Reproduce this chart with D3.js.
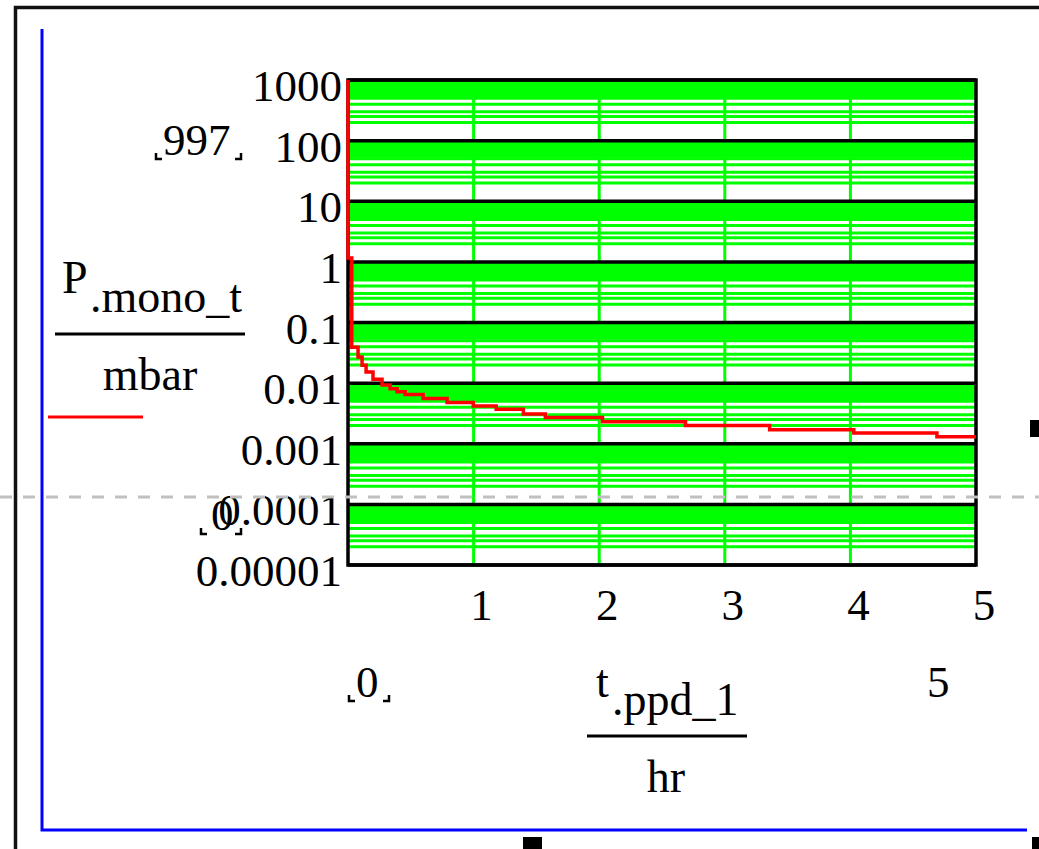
<!DOCTYPE html>
<html>
<head>
<meta charset="utf-8">
<script src="https://cdn.jsdelivr.net/npm/d3@7"></script>
<style>
	body { margin: 0; background: #fff; }
	svg { display: block; }
	text { font-family: "Liberation Serif", "Times New Roman", serif; fill: #000; }
</style>
</head>
<body>
<div id="plot"></div>
<script>
// pressure trace (step points)
const tHours = [0, 0, 0.03, 0.08, 0.112, 0.144, 0.199, 0.271, 0.335, 0.391, 0.455,
	0.598, 0.789, 0.997, 1.18, 1.396, 1.571, 2.026, 2.687, 3.357, 4.027, 4.689, 5];
const pMbar = [1000, 1.16, 0.039, 0.0269, 0.0198, 0.0152, 0.0116, 0.0093, 0.0081, 0.0072, 0.0065,
	0.0056, 0.0048, 0.0042, 0.0037, 0.0031, 0.0027, 0.0023, 0.002, 0.0017, 0.0015, 0.0013, 0.0013];

const yTickValues = [1000, 100, 10, 1, 0.1, 0.01, 0.001, 0.0001, 0.00001];
const yTickLabels = ["1000", "100", "10", "1", "0.1", "0.01", "0.001", "0.0001", "0.00001"];
const xTickValues = [1, 2, 3, 4, 5];
const xTickLabels = ["1", "2", "3", "4", "5"];
const minorSteps = [2, 2.5, 3, 4, 5, 5.5, 6, 6.5, 7, 7.5, 8, 8.5, 9, 9.5];

const yLimits = ["997", "0"];
const xLimits = ["0", "5"];

var width = 1039,
	height = 849;

var x = d3.scaleLinear().domain([0, 5]).range([348, 976]);
var y = d3.scaleLog().domain([0.00001, 1000]).range([565, 80]);

var svg = d3
	.select("#plot")
	.append("svg")
	.attr("width", width)
	.attr("height", height);

// outer region frame and blue margin
svg.append("path")
	.attr("d", "M15.5,849 V7.5 H1039")
	.attr("fill", "none")
	.attr("stroke", "#111")
	.attr("stroke-width", 3.5);

svg.append("path")
	.attr("d", "M42,29 V830 H1027")
	.attr("fill", "none")
	.attr("stroke", "#0000ff")
	.attr("stroke-width", 3);

// minor log grid
var minorVals = [];
for (var k = -5; k < 3; k++) {
	minorSteps.forEach((m) => minorVals.push(m * Math.pow(10, k)));
}

svg.append("g")
	.selectAll("line")
	.data(minorVals)
	.join("line")
	.attr("x1", x(0))
	.attr("x2", x(5))
	.attr("y1", (d) => y(d))
	.attr("y2", (d) => y(d))
	.attr("stroke", "#00ff00")
	.attr("stroke-width", 3);

svg.append("g")
	.selectAll("line")
	.data(xTickValues.slice(0, -1))
	.join("line")
	.attr("x1", (d) => x(d))
	.attr("x2", (d) => x(d))
	.attr("y1", y(1000))
	.attr("y2", y(0.00001))
	.attr("stroke", "#00ff00")
	.attr("stroke-width", 3);

// decade lines
svg.append("g")
	.selectAll("line")
	.data(yTickValues)
	.join("line")
	.attr("x1", x(0))
	.attr("x2", x(5))
	.attr("y1", (d) => y(d))
	.attr("y2", (d) => y(d))
	.attr("stroke", "#000")
	.attr("stroke-width", 3.5);

svg.append("rect")
	.attr("x", x(0))
	.attr("y", y(1000))
	.attr("width", x(5) - x(0))
	.attr("height", y(0.00001) - y(1000))
	.attr("fill", "none")
	.attr("stroke", "#000")
	.attr("stroke-width", 3.5);

// trace
var line = d3
	.line()
	.x((d, i) => x(tHours[i]))
	.y((d) => y(d))
	.curve(d3.curveStepAfter);

svg.append("path")
	.datum(pMbar)
	.attr("d", line)
	.attr("fill", "none")
	.attr("stroke", "#ff0000")
	.attr("stroke-width", 3.5);

// tick labels
svg.append("g")
	.selectAll("text")
	.data(yTickValues)
	.join("text")
	.attr("x", 342)
	.attr("y", (d) => y(d) + 21)
	.attr("text-anchor", "end")
	.style("font-size", "45px")
	.text((d, i) => yTickLabels[i]);

svg.append("g")
	.selectAll("text")
	.data(xTickValues)
	.join("text")
	.attr("x", (d) => x(d) + 8)
	.attr("y", 620)
	.attr("text-anchor", "middle")
	.style("font-size", "45px")
	.text((d, i) => xTickLabels[i]);

// limit placeholders
function corners(x0, x1, yb) {
	return "M" + x0 + "," + (yb - 6) + " V" + yb + " H" + (x0 + 6) +
		" M" + (x1 - 6) + "," + yb + " H" + x1 + " V" + (yb - 6);
}

svg.append("text").attr("x", 163).attr("y", 155).style("font-size", "45px").text(yLimits[0]);
svg.append("path").attr("d", corners(156, 241, 159)).attr("fill", "none").attr("stroke", "#000").attr("stroke-width", 2.5);

svg.append("text").attr("x", 211).attr("y", 530).style("font-size", "45px").text(yLimits[1]);
svg.append("path").attr("d", corners(201, 241, 534)).attr("fill", "none").attr("stroke", "#000").attr("stroke-width", 2.5);

svg.append("text").attr("x", 356).attr("y", 697).style("font-size", "45px").text(xLimits[0]);
svg.append("path").attr("d", corners(349, 389, 701)).attr("fill", "none").attr("stroke", "#000").attr("stroke-width", 2.5);

svg.append("text").attr("x", 927).attr("y", 697).style("font-size", "45px").text(xLimits[1]);

// y axis title
svg.append("text").attr("x", 62).attr("y", 293).style("font-size", "46px").text("P");
svg.append("text").attr("x", 90).attr("y", 312).style("font-size", "46px").text(".mono_t");
svg.append("line").attr("x1", 55).attr("x2", 245).attr("y1", 334).attr("y2", 334).attr("stroke", "#000").attr("stroke-width", 3);
svg.append("text").attr("x", 150).attr("y", 390).attr("text-anchor", "middle").style("font-size", "46px").text("mbar");
svg.append("line").attr("x1", 48).attr("x2", 143).attr("y1", 417).attr("y2", 417).attr("stroke", "#ff0000").attr("stroke-width", 3);

// x axis title
svg.append("text").attr("x", 596).attr("y", 697).style("font-size", "46px").text("t");
svg.append("text").attr("x", 612).attr("y", 715).style("font-size", "46px").text(".ppd_1");
svg.append("line").attr("x1", 587).attr("x2", 747).attr("y1", 736).attr("y2", 736).attr("stroke", "#000").attr("stroke-width", 3);
svg.append("text").attr("x", 666).attr("y", 792).attr("text-anchor", "middle").style("font-size", "46px").text("hr");

// crosshair dash and handles
svg.append("line")
	.attr("x1", 0)
	.attr("x2", width)
	.attr("y1", 497)
	.attr("y2", 497)
	.attr("stroke", "#c0c0c0")
	.attr("stroke-width", 3)
	.attr("stroke-dasharray", "12,11");

svg.append("rect").attr("x", 1030).attr("y", 420).attr("width", 9).attr("height", 17).attr("fill", "#000");
svg.append("rect").attr("x", 523).attr("y", 837).attr("width", 19).attr("height", 12).attr("fill", "#000");
svg.append("rect").attr("x", 1032).attr("y", 837).attr("width", 7).attr("height", 12).attr("fill", "#000");
</script>
</body>
</html>
